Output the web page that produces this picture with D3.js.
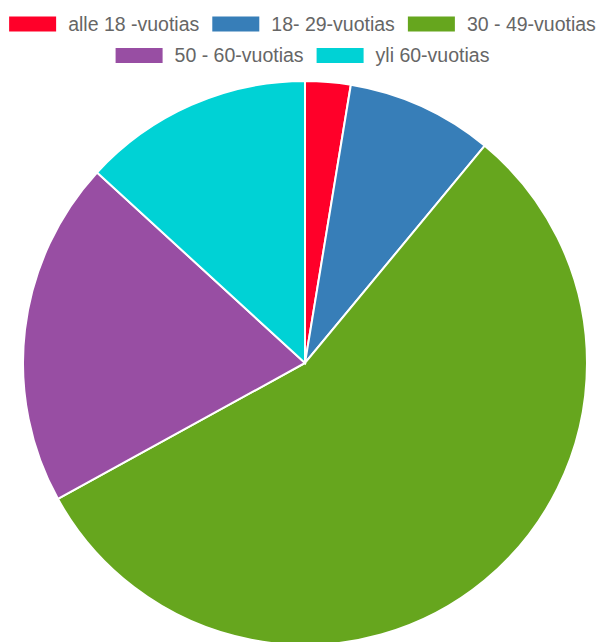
<!DOCTYPE html>
<html>
<head>
<meta charset="utf-8">
<script src="https://cdn.jsdelivr.net/npm/d3@7"></script>
<style>
  body { margin: 0; background: #fff; }
  svg { display: block; }
</style>
</head>
<body>
<svg id="chart" width="605" height="642"></svg>
<script>
// age groups and their shares (%)
var labels = ["alle 18 -vuotias", "18- 29-vuotias", "30 - 49-vuotias", "50 - 60-vuotias", "yli 60-vuotias"];
var values = [2.6, 8.4, 56.0, 19.8, 13.2];
var colors = ["#ff0029", "#377eb8", "#66a61e", "#984ea3", "#00d2d5"];

var svg = d3.select("#chart"),
    width = +svg.attr("width"),
    cx = 305, cy = 363, radius = 282;

var color = d3.scaleOrdinal().domain(labels).range(colors);

// LEGEND
var fontSize = 19.5, boxW = 47, boxH = 15, boxGap = 12, itemGap = 13;
var rows = [[0, 1, 2], [3, 4]], rowY = [24, 55.5];

var legend = svg.append("g").attr("class", "legend");
var measure = svg.append("text")
    .style("font-family", "'Liberation Sans', Arial, sans-serif")
    .style("font-size", fontSize + "px");

rows.forEach(function(row, ri) {
  var widths = row.map(function(i) {
    measure.text(labels[i]);
    return boxW + boxGap + measure.node().getComputedTextLength();
  });
  var total = d3.sum(widths) + itemGap * (row.length - 1);
  var x = (width - total) / 2;
  row.forEach(function(i, k) {
    var g = legend.append("g").attr("transform", "translate(" + x + "," + rowY[ri] + ")");
    g.append("rect")
        .attr("x", 0)
        .attr("y", -boxH / 2)
        .attr("width", boxW)
        .attr("height", boxH)
        .attr("fill", color(labels[i]));
    g.append("text")
        .attr("x", boxW + boxGap)
        .attr("dy", "0.35em")
        .attr("fill", "#666")
        .style("font-family", "'Liberation Sans', Arial, sans-serif")
        .style("font-size", fontSize + "px")
        .text(labels[i]);
    x += widths[k] + itemGap;
  });
});
measure.remove();

// PIE
var pie = d3.pie().sort(null).value(function(d) { return d; });
var arc = d3.arc().innerRadius(0).outerRadius(radius);

svg.append("g")
    .attr("transform", "translate(" + cx + "," + cy + ")")
  .selectAll("path")
  .data(pie(values))
  .enter().append("path")
    .attr("d", arc)
    .attr("fill", function(d, i) { return color(labels[i]); })
    .attr("stroke", "#fff")
    .attr("stroke-width", 2);
</script>
</body>
</html>
